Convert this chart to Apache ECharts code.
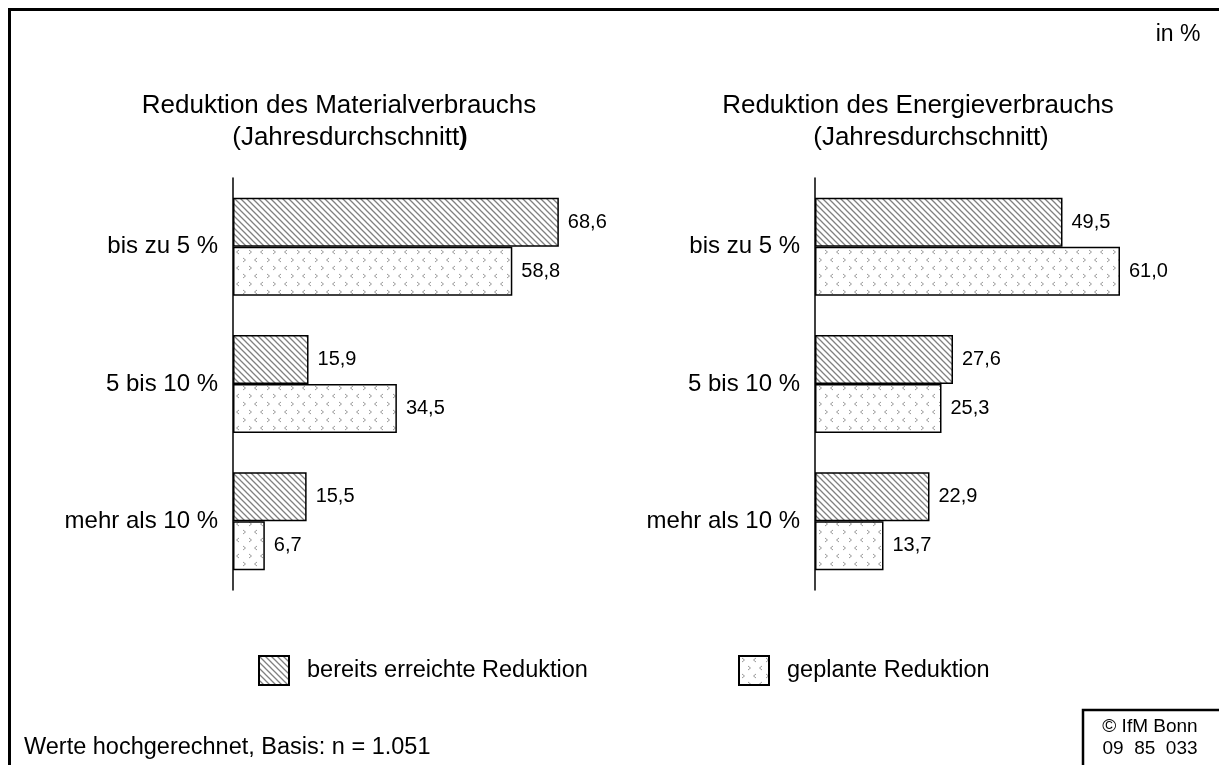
<!DOCTYPE html>
<html>
<head>
<meta charset="utf-8">
<script src="https://cdn.jsdelivr.net/npm/echarts@6/dist/echarts.min.js"></script>
<style>
  html, body { margin: 0; padding: 0; background: #fff; }
  #chart { width: 1219px; height: 765px; }
</style>
</head>
<body>
<div id="chart"></div>
<script>
// Kategorien und Werte (in %)
let categories = ['bis zu 5 %', '5 bis 10 %', 'mehr als 10 %'];
let materialErreicht = [68.6, 15.9, 15.5];
let materialGeplant = [58.8, 34.5, 6.7];
let energieErreicht = [49.5, 27.6, 22.9];
let energieGeplant = [61.0, 25.3, 13.7];
let seriesNames = ['bereits erreichte Reduktion', 'geplante Reduktion'];

let chart = echarts.init(document.getElementById('chart'));
let font = 'Liberation Sans, Arial, sans-serif';

// Schraffur-Muster
function hatchPattern() {
    let c = document.createElement('canvas');
    c.width = 6; c.height = 6;
    let ctx = c.getContext('2d');
    ctx.fillStyle = '#fff';
    ctx.fillRect(0, 0, 6, 6);
    ctx.strokeStyle = '#808080';
    ctx.lineWidth = 1.3;
    ctx.beginPath();
    ctx.moveTo(-1, -1); ctx.lineTo(7, 7);
    ctx.moveTo(-4, 2); ctx.lineTo(4, 10);
    ctx.moveTo(2, -4); ctx.lineTo(10, 4);
    ctx.stroke();
    return c;
}

// Punkt-Muster (kleine Winkel)
function dotPattern() {
    let c = document.createElement('canvas');
    c.width = 24; c.height = 16;
    let ctx = c.getContext('2d');
    ctx.fillStyle = '#fff';
    ctx.fillRect(0, 0, 24, 16);
    ctx.strokeStyle = '#999';
    ctx.lineWidth = 1;
    function chev(x, y, dir) {
        ctx.beginPath();
        ctx.moveTo(x, y);
        ctx.lineTo(x + 2.5 * dir, y + 2);
        ctx.lineTo(x, y + 4);
        ctx.stroke();
    }
    chev(3, 2, 1);
    chev(17, 2, -1);
    chev(9, 10, 1);
    chev(23, 10, -1);
    return c;
}

let hatch = { image: hatchPattern(), repeat: 'repeat' };
let dots = { image: dotPattern(), repeat: 'repeat' };

function bar(name, data, idx, pattern) {
    return {
        name: name,
        type: 'bar',
        xAxisIndex: idx,
        yAxisIndex: idx,
        data: data,
        barWidth: 49,
        barGap: '0%',
        itemStyle: { color: pattern, borderColor: '#000', borderWidth: 1.5 },
        label: {
            show: true,
            position: 'right',
            distance: 9,
            color: '#000',
            fontSize: 20,
            fontFamily: font,
            formatter: function (p) { return p.value.toFixed(1).replace('.', ','); }
        },
        silent: true
    };
}

function yAxis(idx) {
    return {
        type: 'category',
        gridIndex: idx,
        data: categories,
        inverse: true,
        axisLine: { lineStyle: { color: '#000', width: 1.5 } },
        axisTick: { show: false },
        axisLabel: { color: '#000', fontSize: 24, fontFamily: font, margin: 15 }
    };
}

function xAxis(idx, max) {
    return {
        type: 'value',
        gridIndex: idx,
        min: 0,
        max: max,
        show: false
    };
}

function txt(x, y, text, size, align, rich) {
    return {
        type: 'text',
        x: x, y: y,
        style: {
            text: text,
            fill: '#000',
            fontSize: size,
            fontFamily: font,
            align: align || 'left',
            verticalAlign: 'middle',
            rich: rich
        }
    };
}

let boldRich = { b: { fontWeight: 'bold', fontSize: 26, fontFamily: font, fill: '#000' } };

let legendText = { color: '#000', fontSize: 23.5, fontFamily: font, padding: [0, 0, 0, 13] };

let option = {
    animation: false,
    backgroundColor: '#fff',
    grid: [
        { left: 233, top: 178, height: 412, width: 475 },
        { left: 815, top: 178, height: 412, width: 400 }
    ],
    xAxis: [xAxis(0, 100), xAxis(1, 80)],
    yAxis: [yAxis(0), yAxis(1)],
    legend: [
        {
            data: [seriesNames[0]],
            left: 258, top: 655,
            padding: 0,
            itemWidth: 30, itemHeight: 29,
            icon: 'rect',
            selectedMode: false,
            textStyle: legendText
        },
        {
            data: [seriesNames[1]],
            left: 738, top: 655,
            padding: 0,
            itemWidth: 30, itemHeight: 29,
            icon: 'rect',
            selectedMode: false,
            textStyle: legendText
        }
    ],
    series: [
        bar(seriesNames[0], materialErreicht, 0, hatch),
        bar(seriesNames[1], materialGeplant, 0, dots),
        bar(seriesNames[0], energieErreicht, 1, hatch),
        bar(seriesNames[1], energieGeplant, 1, dots)
    ],
    graphic: [
        // Rahmen
        { type: 'polyline', shape: { points: [[9.5, 770], [9.5, 9.5], [1225, 9.5]] },
          style: { stroke: '#000', lineWidth: 3, fill: null } },
        // Kasten unten rechts
        { type: 'polyline', shape: { points: [[1083, 770], [1083, 710], [1225, 710]] },
          style: { stroke: '#000', lineWidth: 2.5, fill: null } },
        txt(1178, 35, 'in %', 23, 'center'),
        txt(339, 106, 'Reduktion des Materialverbrauchs', 26, 'center'),
        txt(350, 138, '(Jahresdurchschnitt{b|)}', 26, 'center', boldRich),
        txt(918, 106, 'Reduktion des Energieverbrauchs', 26, 'center'),
        txt(931, 138, '(Jahresdurchschnitt)', 26, 'center'),
        txt(24, 748, 'Werte hochgerechnet, Basis: n = 1.051', 23.5, 'left'),
        txt(1150, 727, '\u00a9 IfM Bonn', 19, 'center'),
        txt(1150, 749, '09  85  033', 19, 'center')
    ]
};

chart.setOption(option);
window.addEventListener('resize', function () { chart.resize(); });
</script>
</body>
</html>
